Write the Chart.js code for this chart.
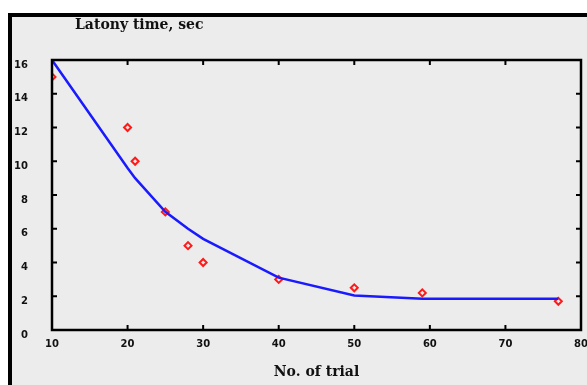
<!DOCTYPE html>
<html>
<head>
<meta charset="utf-8">
<script src="https://cdn.jsdelivr.net/npm/chart.js@4/dist/chart.umd.min.js"></script>
<style>
  html, body { margin: 0; padding: 0; background: #fff; }
  #wrap { width: 587px; height: 385px; }
</style>
</head>
<body>
<div id="wrap"><canvas id="c" width="587" height="385"></canvas></div>
<script>
// 試行番号と潜時（実測点）
const trialNo = [10, 20, 21, 25, 28, 30, 40, 50, 59, 77];
const latency = [15, 12, 10, 7, 5, 4, 3, 2.5, 2.2, 1.7];
// 近似曲線（同じ試行番号で評価した値）
const fitLatency = [16, 9.6, 9.0, 7.0, 6.0, 5.4, 3.1, 2.05, 1.85, 1.85];

const xTicks = [10, 20, 30, 40, 50, 60, 70, 80];
const yTicks = [0, 2, 4, 6, 8, 10, 12, 14, 16];

const TITLE = 'Latony time, sec';
const X_TITLE = 'No. of trial';

const toXY = (xs, ys) => xs.map((x, i) => ({ x, y: ys[i] }));

// 背景・外枠・タイトル・内向き目盛りを描く
const framePlugin = {
  id: 'frame',
  beforeDraw(chart) {
    const { ctx, width, height } = chart;
    ctx.save();
    ctx.fillStyle = '#ffffff';
    ctx.fillRect(0, 0, width, height);
    ctx.fillStyle = '#ececec';
    ctx.fillRect(12, 17, width - 12, height - 17);
    ctx.fillStyle = '#000';
    ctx.fillRect(8, 13, width - 8, 4);
    ctx.fillRect(8, 13, 4, height - 13);
    ctx.font = 'bold 14px "DejaVu Serif"';
    ctx.textBaseline = 'middle';
    ctx.fillStyle = '#111';
    ctx.fillText(TITLE, 75, 25);
    ctx.restore();
  },
  afterDraw(chart) {
    const { ctx, chartArea: a } = chart;
    const xs = chart.scales.x;
    const ys = chart.scales.y;
    ctx.save();
    ctx.strokeStyle = '#000';
    ctx.lineWidth = 2.5;
    ctx.strokeRect(a.left, a.top, a.right - a.left, a.bottom - a.top);
    ctx.lineWidth = 2;
    const t = 5;
    ctx.beginPath();
    for (const v of xTicks) {
      const px = xs.getPixelForValue(v);
      if (px <= a.left + 1 || px >= a.right - 1) continue;
      ctx.moveTo(px, a.bottom); ctx.lineTo(px, a.bottom - t);
      ctx.moveTo(px, a.top); ctx.lineTo(px, a.top + t);
    }
    for (const v of yTicks) {
      const py = ys.getPixelForValue(v);
      if (py <= a.top + 1 || py >= a.bottom - 1) continue;
      ctx.moveTo(a.left, py); ctx.lineTo(a.left + t, py);
      ctx.moveTo(a.right, py); ctx.lineTo(a.right - t, py);
    }
    ctx.stroke();
    ctx.restore();
  },
};

const tickFont = { family: '"DejaVu Sans"', size: 10, weight: 'bold' };

new Chart(document.getElementById('c').getContext('2d'), {
  type: 'scatter',
  data: {
    datasets: [
      {
        label: 'fit',
        data: toXY(trialNo, fitLatency),
        showLine: true,
        borderColor: '#1a1aff',
        borderWidth: 2.5,
        pointRadius: 0,
        tension: 0,
        fill: false,
      },
      {
        label: 'latency',
        data: toXY(trialNo, latency),
        showLine: false,
        pointStyle: 'rectRot',
        pointRadius: 3.5,
        borderWidth: 2,
        borderColor: '#ff1a1a',
        backgroundColor: '#ececec',
      },
    ],
  },
  options: {
    responsive: false,
    animation: false,
    devicePixelRatio: 1,
    layout: { padding: { top: 60, right: 5, left: 0, bottom: 0 } },
    plugins: {
      legend: { display: false },
      tooltip: { enabled: false },
      title: { display: false },
    },
    scales: {
      x: {
        type: 'linear',
        min: 10,
        max: 80,
        afterFit: (s) => { s.height = 55; s.paddingLeft = 0; s.paddingRight = 0; },
        afterBuildTicks: (s) => { s.ticks = xTicks.map((v) => ({ value: v })); },
        grid: { display: false, drawTicks: false },
        border: { display: false },
        ticks: { color: '#111', font: tickFont, padding: 8, maxRotation: 0, autoSkip: false },
        title: {
          display: true,
          text: X_TITLE,
          color: '#111',
          font: { family: '"DejaVu Serif"', size: 14, weight: 'bold' },
          padding: { top: 11 },
        },
      },
      y: {
        type: 'linear',
        min: 0,
        max: 16,
        afterFit: (s) => { s.width = 52; s.paddingTop = 0; s.paddingBottom = 0; },
        afterBuildTicks: (s) => { s.ticks = yTicks.map((v) => ({ value: v })); },
        grid: { display: false, drawTicks: false },
        border: { display: false },
        ticks: { color: '#111', font: tickFont, padding: 24, labelOffset: 5, autoSkip: false },
      },
    },
  },
  plugins: [framePlugin],
});
</script>
</body>
</html>
